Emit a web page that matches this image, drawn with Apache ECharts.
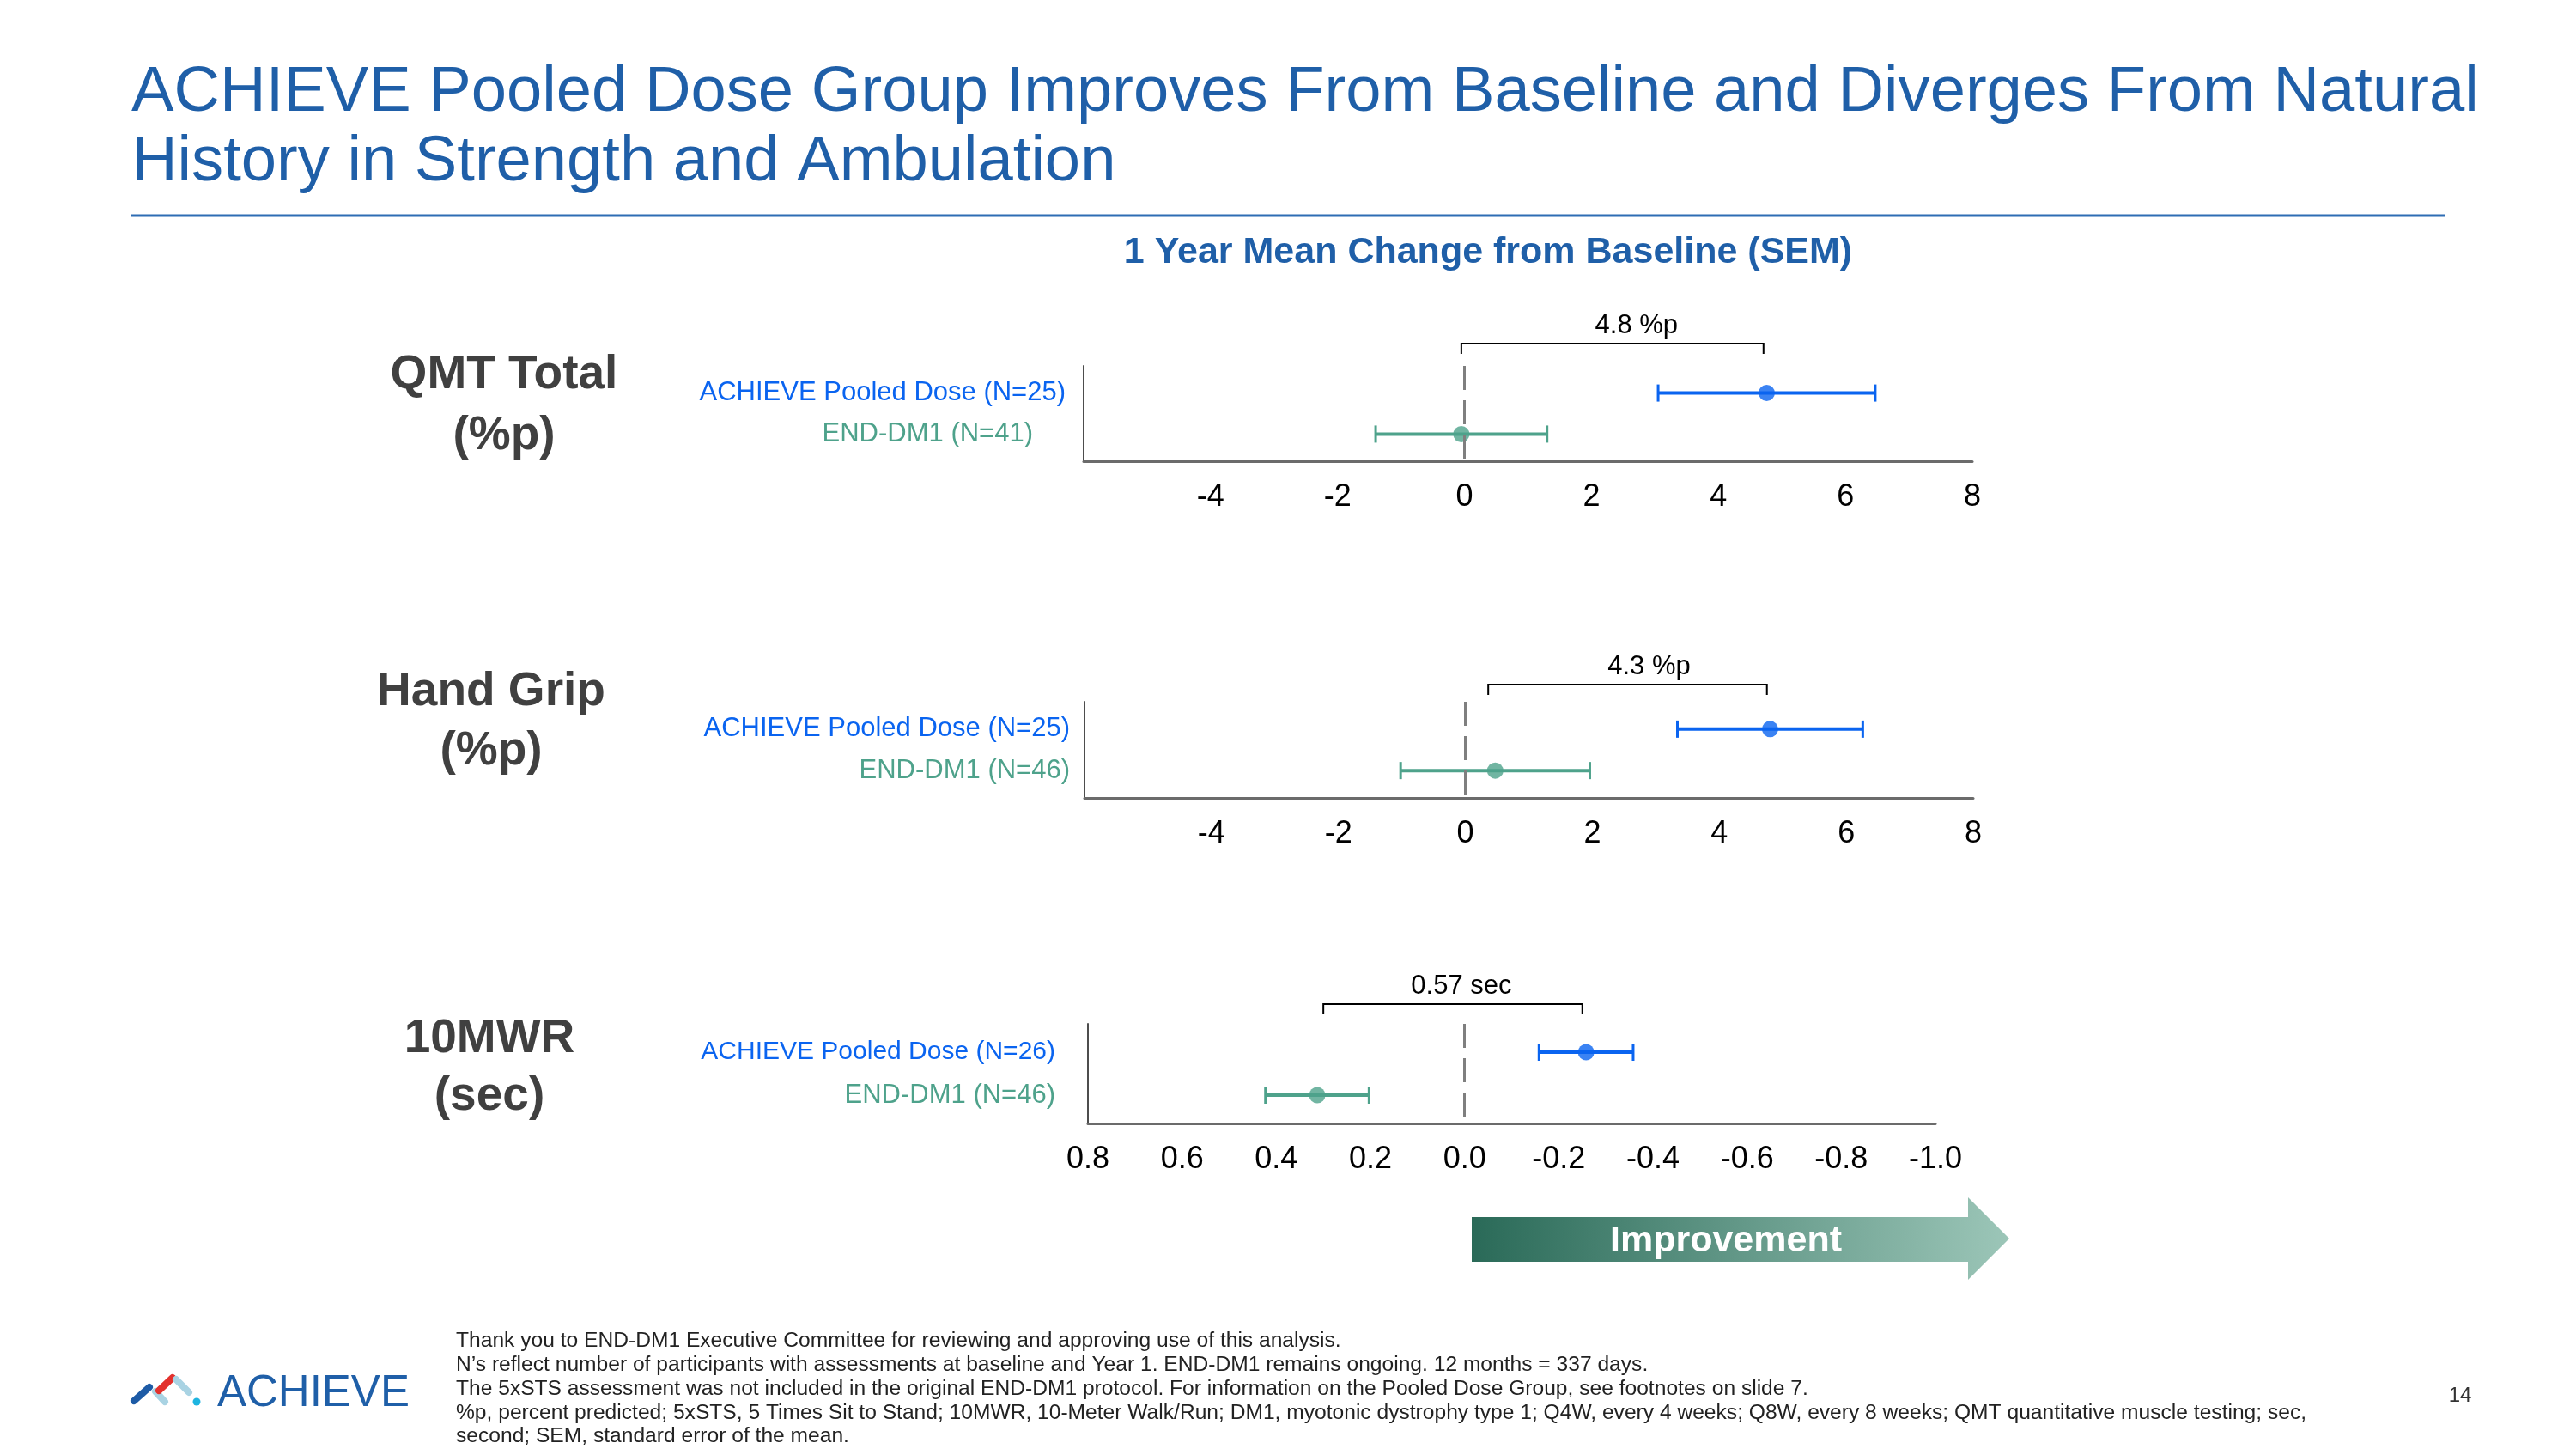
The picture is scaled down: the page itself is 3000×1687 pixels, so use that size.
<!DOCTYPE html>
<html>
<head>
<meta charset="utf-8">
<title>ACHIEVE 1 Year Mean Change</title>
<script src="https://cdn.jsdelivr.net/npm/echarts@6/dist/echarts.min.js"></script>
<style>
  html, body { margin: 0; padding: 0; background: #fff; }
  #chart { width: 3000px; height: 1687px; }
</style>
</head>
<body>
<div id="chart"></div>
<script>
// Group labels per panel (top row first)
const qmtGroups = ['ACHIEVE Pooled Dose (N=25)', 'END-DM1 (N=41)'];
const gripGroups = ['ACHIEVE Pooled Dose (N=25)', 'END-DM1 (N=46)'];
const walkGroups = ['ACHIEVE Pooled Dose (N=26)', 'END-DM1 (N=46)'];

// 1 year mean change and SEM, [ACHIEVE, END-DM1]
const qmtMean = [4.76, -0.05];
const qmtSem = [1.71, 1.35];
const gripMean = [4.80, 0.47];
const gripSem = [1.46, 1.49];
const walkMean = [-0.258, 0.313];
const walkSem = [0.10, 0.11];

// difference brackets above each panel
const bracketFrom = [-0.05, 0.36, 0.30];
const bracketTo = [4.71, 4.75, -0.25];
const bracketLabels = ['4.8 %p', '4.3 %p', '0.57 sec'];

const FONT = '"Liberation Sans", Arial, Helvetica, sans-serif';
const BLUE_TITLE = '#1F5FA8';
const ACH_COLOR = '#0A64F0';
const END_COLOR = '#4EA28B';
const groupColors = [ACH_COLOR, END_COLOR];

let myChart = echarts.init(document.getElementById('chart'));

// horizontal error bar with end caps
function renderErrorBar(params, api) {
  const row = api.value(0);
  const mean = api.value(1);
  const sem = api.value(2);
  const lo = api.coord([mean - sem, row]);
  const hi = api.coord([mean + sem, row]);
  const color = api.visual('color');
  const half = 10;
  return {
    type: 'group',
    children: [
      { type: 'line', shape: { x1: lo[0], y1: lo[1], x2: hi[0], y2: hi[1] }, style: { stroke: color, lineWidth: 4 } },
      { type: 'line', shape: { x1: lo[0], y1: lo[1] - half, x2: lo[0], y2: lo[1] + half }, style: { stroke: color, lineWidth: 3 } },
      { type: 'line', shape: { x1: hi[0], y1: hi[1] - half, x2: hi[0], y2: hi[1] + half }, style: { stroke: color, lineWidth: 3 } }
    ]
  };
}

// bracket + difference label, sitting above the grid
function makeBracketRenderer(label, gap, shift) {
  return function (params, api) {
    const a = api.coord([api.value(0), 0]);
    const b = api.coord([api.value(1), 0]);
    const yLine = params.coordSys.y - gap;
    return {
      type: 'group',
      children: [
        {
          type: 'polyline',
          shape: { points: [[a[0], yLine + 12], [a[0], yLine], [b[0], yLine], [b[0], yLine + 12]] },
          style: { stroke: '#000', lineWidth: 2, fill: 'none' }
        },
        {
          type: 'text',
          style: {
            text: label, x: (a[0] + b[0]) / 2 + shift, y: yLine - 21,
            align: 'center', verticalAlign: 'middle',
            fontSize: 31, fontFamily: FONT, fill: '#000'
          }
        }
      ]
    };
  };
}

function errorData(means, sems) {
  return means.map((m, i) => ({ value: [i, m, sems[i]], itemStyle: { color: groupColors[i] } }));
}
function dotData(means) {
  return means.map((m, i) => ({ value: [m, i], itemStyle: { color: groupColors[i] } }));
}

const panels = [
  { groups: qmtGroups, mean: qmtMean, sem: qmtSem, pads: [0, 38], sizes: [31, 31], margin: 21, gap: 26, shift: 28,
    grid: { left: 1262, top: 426, width: 1035, height: 111 },
    x: { min: -6, max: 8, interval: 2, inverse: false, fmt: (v) => (v === -6 ? '' : String(v)) } },
  { groups: gripGroups, mean: gripMean, sem: gripSem, pads: [0, 0], sizes: [31, 31], margin: 17, gap: 20, shift: 25,
    grid: { left: 1263, top: 817, width: 1035, height: 112 },
    x: { min: -6, max: 8, interval: 2, inverse: false, fmt: (v) => (v === -6 ? '' : String(v)) } },
  { groups: walkGroups, mean: walkMean, sem: walkSem, pads: [0, 0], sizes: [30, 31], margin: 38, gap: 23, shift: 10,
    grid: { left: 1267, top: 1192, width: 987, height: 116 },
    x: { min: -1.0, max: 0.8, interval: 0.2, inverse: true, fmt: (v) => v.toFixed(1) } }
];

const grids = [];
const xAxes = [];
const yAxes = [];
const series = [];

panels.forEach((p, k) => {
  grids.push(Object.assign({ containLabel: false }, p.grid));
  xAxes.push({
    gridIndex: k,
    type: 'value',
    min: p.x.min,
    max: p.x.max,
    interval: p.x.interval,
    inverse: p.x.inverse,
    axisLine: { show: true, onZero: false, lineStyle: { color: '#6b6b6b', width: 3 } },
    axisTick: { show: false },
    splitLine: { show: false },
    axisLabel: { fontSize: 36, fontFamily: FONT, color: '#000', margin: 24, formatter: p.x.fmt }
  });
  // rows 0 and 1 on a value axis so they sit a little inside the frame
  yAxes.push({
    gridIndex: k,
    type: 'value',
    inverse: true,
    min: -0.66,
    max: 1.66,
    axisLine: { show: true, onZero: false, lineStyle: { color: '#4d4d4d', width: 2 } },
    axisTick: { show: false },
    splitLine: { show: false },
    axisLabel: {
      customValues: [0, 1],
      margin: p.margin,
      fontFamily: FONT,
      formatter: (v) => '{g' + v + '|' + p.groups[v] + '}',
      rich: {
        g0: { color: groupColors[0], fontSize: p.sizes[0], fontFamily: FONT, padding: [0, p.pads[0], 0, 0] },
        g1: { color: groupColors[1], fontSize: p.sizes[1], fontFamily: FONT, padding: [0, p.pads[1], 0, 0] }
      }
    }
  });
  series.push({
    type: 'custom',
    xAxisIndex: k,
    yAxisIndex: k,
    renderItem: renderErrorBar,
    encode: { x: [1, 2], y: 0 },
    data: errorData(p.mean, p.sem),
    z: 3,
    silent: true
  });
  series.push({
    type: 'scatter',
    xAxisIndex: k,
    yAxisIndex: k,
    symbolSize: 19,
    data: dotData(p.mean),
    z: 4,
    silent: true,
    markLine: {
      silent: true,
      symbol: 'none',
      label: { show: false },
      lineStyle: { color: '#7f7f7f', type: [28, 12], width: 3 },
      data: [{ xAxis: 0 }]
    }
  });
  series.push({
    type: 'custom',
    xAxisIndex: k,
    yAxisIndex: k,
    renderItem: makeBracketRenderer(bracketLabels[k], p.gap, p.shift),
    encode: { x: [0, 1], y: 2 },
    data: [[bracketFrom[k], bracketTo[k], 0]],
    clip: false,
    silent: true
  });
});

const footLines = [
  'Thank you to END-DM1 Executive Committee for reviewing and approving use of this analysis.',
  'N\u2019s reflect number of participants with assessments at baseline and Year 1. END-DM1 remains ongoing. 12 months = 337 days.',
  'The 5xSTS assessment was not included in the original END-DM1 protocol. For information on the Pooled Dose Group, see footnotes on slide 7.',
  '%p, percent predicted; 5xSTS, 5 Times Sit to Stand; 10MWR, 10-Meter Walk/Run; DM1, myotonic dystrophy type 1; Q4W, every 4 weeks; Q8W, every 8 weeks; QMT quantitative muscle testing; sec,',
  'second; SEM, standard error of the mean.'
];
const footY = [1561, 1589, 1617, 1645, 1672];

function txt(text, x, y, size, color, weight, align) {
  return {
    type: 'text',
    style: {
      text: text, x: x, y: y, fontSize: size, fontFamily: FONT,
      fontWeight: weight || 'normal', fill: color, align: align || 'left', verticalAlign: 'middle'
    }
  };
}

const graphics = [
  txt('ACHIEVE Pooled Dose Group Improves From Baseline and Diverges From Natural', 153, 109, 74.2, BLUE_TITLE),
  txt('History in Strength and Ambulation', 153, 190, 74.2, BLUE_TITLE),
  { type: 'line', shape: { x1: 153, y1: 251, x2: 2848, y2: 251 }, style: { stroke: '#2E6DB4', lineWidth: 3 } },
  txt('1 Year Mean Change from Baseline (SEM)', 1733, 294, 43, BLUE_TITLE, 'bold', 'center'),
  txt('QMT Total', 587, 437, 55, '#404040', 'bold', 'center'),
  txt('(%p)', 587, 508, 55, '#404040', 'bold', 'center'),
  txt('Hand Grip', 572, 806, 55, '#404040', 'bold', 'center'),
  txt('(%p)', 572, 875, 55, '#404040', 'bold', 'center'),
  txt('10MWR', 570, 1210, 55, '#404040', 'bold', 'center'),
  txt('(sec)', 570, 1277, 55, '#404040', 'bold', 'center'),
  // improvement arrow
  {
    type: 'polygon',
    shape: { points: [[1714, 1417], [2292, 1417], [2292, 1394], [2340, 1442], [2292, 1490], [2292, 1469], [1714, 1469]] },
    style: {
      fill: new echarts.graphic.LinearGradient(0, 0, 1, 0, [
        { offset: 0, color: '#2A6A58' },
        { offset: 1, color: '#9CC6B8' }
      ])
    }
  },
  txt('Improvement', 2010, 1445, 43, '#fff', 'bold', 'center'),
  // logo
  { type: 'line', shape: { x1: 156, y1: 1631, x2: 174, y2: 1615 }, style: { stroke: '#1D5BA6', lineWidth: 8, lineCap: 'round' } },
  { type: 'line', shape: { x1: 181, y1: 1620, x2: 192, y2: 1632 }, style: { stroke: '#A9D3E3', lineWidth: 8, lineCap: 'round' } },
  { type: 'line', shape: { x1: 185, y1: 1619, x2: 201, y2: 1604 }, style: { stroke: '#E3312D', lineWidth: 8, lineCap: 'round' } },
  { type: 'line', shape: { x1: 205, y1: 1606, x2: 220, y2: 1621 }, style: { stroke: '#A9D3E3', lineWidth: 8, lineCap: 'round' } },
  { type: 'circle', shape: { cx: 229, cy: 1632, r: 4.5 }, style: { fill: '#1EB4E0' } },
  txt('ACHIEVE', 253, 1623, 51, BLUE_TITLE),
  txt('14', 2865, 1625, 24, '#333', 'normal', 'center')
];
footLines.forEach((line, i) => graphics.push(txt(line, 531, footY[i], 24.6, '#222')));

const option = {
  backgroundColor: '#fff',
  animation: false,
  grid: grids,
  xAxis: xAxes,
  yAxis: yAxes,
  series: series,
  graphic: graphics
};

myChart.setOption(option);
</script>
</body>
</html>
